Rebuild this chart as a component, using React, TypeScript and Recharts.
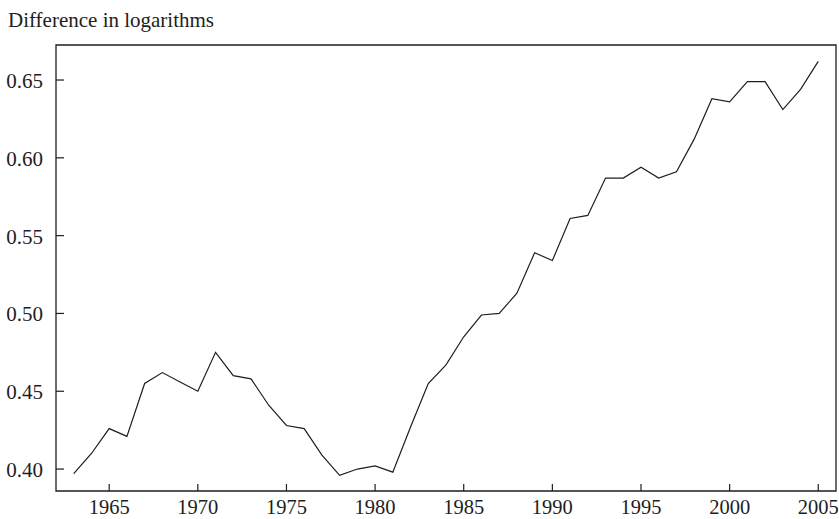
import React from "react";
import { LineChart, Line, XAxis, YAxis, ReferenceArea } from "recharts";

const years = [
  1963, 1964, 1965, 1966, 1967, 1968, 1969, 1970, 1971, 1972, 1973, 1974,
  1975, 1976, 1977, 1978, 1979, 1980, 1981, 1982, 1983, 1984, 1985, 1986,
  1987, 1988, 1989, 1990, 1991, 1992, 1993, 1994, 1995, 1996, 1997, 1998,
  1999, 2000, 2001, 2002, 2003, 2004, 2005,
];

const logDiff = [
  0.397, 0.41, 0.426, 0.421, 0.455, 0.462, 0.456, 0.45, 0.475, 0.46, 0.458,
  0.441, 0.428, 0.426, 0.409, 0.396, 0.4, 0.402, 0.398, 0.427, 0.455, 0.467,
  0.485, 0.499, 0.5, 0.513, 0.539, 0.534, 0.561, 0.563, 0.587, 0.587, 0.594,
  0.587, 0.591, 0.612, 0.638, 0.636, 0.649, 0.649, 0.631, 0.644, 0.662,
];

const xTicks = [1965, 1970, 1975, 1980, 1985, 1990, 1995, 2000, 2005];
const yTicks = [0.4, 0.45, 0.5, 0.55, 0.6, 0.65];

const xDomain: [number, number] = [1962, 2006];
const yDomain: [number, number] = [0.3859, 0.6725];

const data = years.map((year, i) => ({ year, value: logDiff[i] }));

const FONT = "'Liberation Serif', 'DejaVu Serif', serif";
const INK = "#1e1e1e";

function XTick({ x, y, payload }: any) {
  return (
    <g>
      <line x1={x} y1={y} x2={x} y2={y - 7} stroke={INK} strokeWidth={1.2} />
      <text
        x={x}
        y={y + 23}
        textAnchor="middle"
        fontFamily={FONT}
        fontSize={20.5}
        fill={INK}
      >
        {payload.value}
      </text>
    </g>
  );
}

function YTick({ x, y, payload }: any) {
  return (
    <g>
      <line x1={x} y1={y} x2={x + 8} y2={y} stroke={INK} strokeWidth={1.2} />
      <text
        x={x - 13}
        y={y + 8}
        textAnchor="end"
        fontFamily={FONT}
        fontSize={21}
        fill={INK}
      >
        {payload.value.toFixed(2)}
      </text>
    </g>
  );
}

export default function App() {
  return (
    <div
      style={{
        position: "fixed",
        left: 0,
        top: 0,
        width: 839,
        height: 519,
        background: "#fff",
      }}
    >
      <div
        style={{
          position: "absolute",
          left: 8,
          top: 10,
          fontFamily: FONT,
          fontSize: 21,
          lineHeight: "21px",
          color: INK,
          whiteSpace: "nowrap",
        }}
      >
        Difference in logarithms
      </div>
      <LineChart
        width={839}
        height={519}
        data={data}
        margin={{ top: 45, right: 3, bottom: 0, left: 0 }}
      >
        <XAxis
          dataKey="year"
          type="number"
          domain={xDomain}
          ticks={xTicks}
          allowDataOverflow
          height={28}
          axisLine={false}
          tickLine={false}
          tickSize={0}
          tickMargin={0}
          tick={<XTick />}
          interval={0}
        />
        <YAxis
          type="number"
          domain={yDomain}
          ticks={yTicks}
          allowDataOverflow
          width={56}
          axisLine={false}
          tickLine={false}
          tickSize={0}
          tickMargin={0}
          tick={<YTick />}
          interval={0}
        />
        <ReferenceArea
          x1={xDomain[0]}
          x2={xDomain[1]}
          y1={yDomain[0]}
          y2={yDomain[1]}
          fill="none"
          stroke={INK}
          strokeWidth={1.3}
        />
        <Line
          type="linear"
          dataKey="value"
          stroke={INK}
          strokeWidth={1.2}
          dot={false}
          isAnimationActive={false}
        />
      </LineChart>
    </div>
  );
}
